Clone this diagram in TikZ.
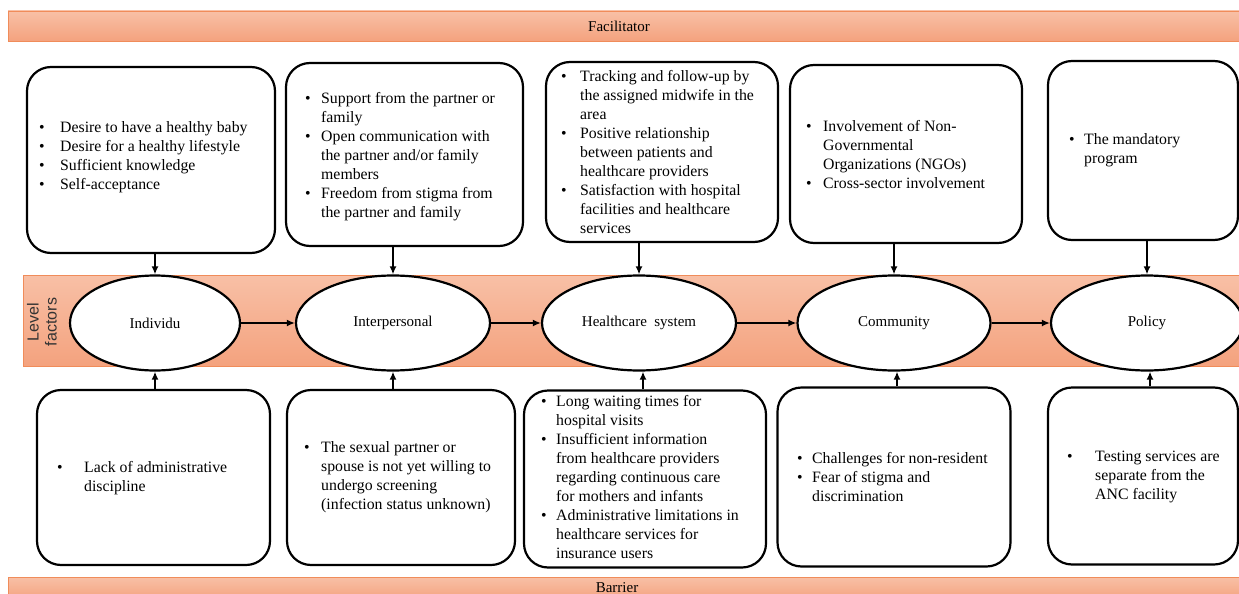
\documentclass[tikz,border=0pt]{standalone}
\usepackage{fontspec}
\setmainfont{Liberation Serif}
\newfontfamily\lvlfont{Liberation Sans}
\usetikzlibrary{arrows.meta,shapes.geometric}
\definecolor{bartop}{RGB}{248,192,166}
\definecolor{barbot}{RGB}{244,162,126}
\definecolor{barline}{RGB}{240,140,90}
\newcommand\bitem[2][15pt]{\par\noindent\hangindent=#1\hangafter=1\makebox[#1][l]{\textbullet}#2\par}
\newcommand\btext[2]{\begin{minipage}{#1}\fontsize{15.8}{19}\selectfont#2\end{minipage}}
\tikzset{
  bar/.style={draw=barline, line width=0.8pt, top color=bartop, bottom color=barbot},
  box/.style={draw, line width=2.2pt, rounded corners=24pt, fill=white, inner sep=0pt},
  ell/.style={ellipse, draw, line width=2.2pt, fill=white, inner sep=0pt, font=\fontsize{15}{17}\selectfont},
  txt/.style={anchor=west, inner sep=0pt},
  arr/.style={line width=2pt, -{Latex[length=8pt,width=7pt]}},
  lbl/.style={inner sep=0pt, font=\fontsize{15}{17}\selectfont}
}
\begin{document}
\begin{tikzpicture}[x=1pt,y=1pt]
\useasboundingbox (0,0) rectangle (1239,-594);
% bars
\path[bar] (8,-11) rectangle (1250,-41);
\node[lbl] (fac) at (619,-26) {Facilitator};
\path[bar] (8,-577) rectangle (1250,-600);
\node[lbl] (bar) at (617,-588) {Barrier};
\path[bar] (23,-275) rectangle (1250,-366);
\node[rotate=90, align=center, inner sep=0pt, font=\lvlfont\fontsize{16}{18}\selectfont, text=black!80] (lvl) at (42,-322) {Level\\factors};
% ellipses
\node[ell, minimum width=170pt, minimum height=95pt] (e1) at (155,-323) {Individu};
\node[ell, minimum width=194pt, minimum height=95pt] (e2) at (393,-323) {Interpersonal};
\node[ell, minimum width=194pt, minimum height=95pt] (e3) at (639,-323) {Healthcare\ \ system};
\node[ell, minimum width=193pt, minimum height=95pt] (e4) at (894,-323) {Community};
\node[ell, minimum width=192pt, minimum height=95pt] (e5) at (1147,-323) {Policy};
\draw[arr] (e1) -- (e2);
\draw[arr] (e2) -- (e3);
\draw[arr] (e3) -- (e4);
\draw[arr] (e4) -- (e5);
% top boxes
\node[box, minimum width=248pt, minimum height=186pt] (b1t) at (151,-160) {};
\node[box, minimum width=237pt, minimum height=183pt] (b2t) at (404.5,-154.5) {};
\node[box, minimum width=232pt, minimum height=180pt] (b3t) at (662,-152) {};
\node[box, minimum width=232pt, minimum height=178pt] (b4t) at (906,-154) {};
\node[box, minimum width=190pt, minimum height=179pt] (b5t) at (1143,-150.5) {};
\node[txt] (t1t) at (39,-157) {\btext{225pt}{%
\bitem[21pt]{Desire to have a healthy baby}%
\bitem[21pt]{Desire for a healthy lifestyle}%
\bitem[21pt]{Sufficient knowledge}%
\bitem[21pt]{Self-acceptance}}};
\node[txt] (t2t) at (305,-157) {\btext{215pt}{%
\bitem[16pt]{Support from the partner or\newline family}%
\bitem[16pt]{Open communication with\newline the partner and/or family\newline members}%
\bitem[16pt]{Freedom from stigma from\newline the partner and family}}};
\node[txt] (t3t) at (561,-152) {\btext{215pt}{%
\bitem[19pt]{Tracking and follow-up by\newline the assigned midwife in the\newline area}%
\bitem[19pt]{Positive relationship\newline between patients and\newline healthcare providers}%
\bitem[19pt]{Satisfaction with hospital\newline facilities and healthcare\newline services}}};
\node[txt] (t4t) at (806,-155) {\btext{215pt}{%
\bitem[17pt]{Involvement of Non-\newline Governmental\newline Organizations (NGOs)}%
\bitem[17pt]{Cross-sector involvement}}};
\node[txt] (t5t) at (1069,-150) {\btext{165pt}{%
\bitem[15pt]{The mandatory\newline program}}};
% bottom boxes
\node[box, minimum width=233pt, minimum height=175pt] (b1b) at (153.5,-477.5) {};
\node[box, minimum width=228pt, minimum height=175pt] (b2b) at (401,-477.5) {};
\node[box, minimum width=242pt, minimum height=177pt] (b3b) at (645,-479) {};
\node[box, minimum width=233pt, minimum height=179pt] (b4b) at (894,-477) {};
\node[box, minimum width=190pt, minimum height=177pt] (b5b) at (1143,-476) {};
\node[txt] (t1b) at (57,-478) {\btext{205pt}{%
\bitem[27pt]{Lack of administrative\newline discipline}}};
\node[txt] (t2b) at (304,-477) {\btext{215pt}{%
\bitem[17pt]{The sexual partner or\newline spouse is not yet willing to\newline undergo screening\newline (infection status unknown)}}};
\node[txt] (t3b) at (541,-477) {\btext{220pt}{%
\bitem[15pt]{Long waiting times for\newline hospital visits}%
\bitem[15pt]{Insufficient information\newline from healthcare providers\newline regarding continuous care\newline for mothers and infants}%
\bitem[15pt]{Administrative limitations in\newline healthcare services for\newline insurance users}}};
\node[txt] (t4b) at (797,-477) {\btext{215pt}{%
\bitem[15pt]{Challenges for non-resident}%
\bitem[15pt]{Fear of stigma and\newline discrimination}}};
\node[txt] (t5b) at (1067,-477) {\btext{170pt}{%
\bitem[28pt]{Testing services are\newline separate from the\newline ANC facility}}};
% vertical arrows
\draw[arr] (e1.north |- b1t.south) -- (e1.north);
\draw[arr] (e2.north |- b2t.south) -- (e2.north);
\draw[arr] (e3.north |- b3t.south) -- (e3.north);
\draw[arr] (e4.north |- b4t.south) -- (e4.north);
\draw[arr] (e5.north |- b5t.south) -- (e5.north);
\draw[arr] (e1.south |- b1b.north) -- (e1.south);
\draw[arr] (e2.south |- b2b.north) -- (e2.south);
\draw[arr] ([xshift=4pt]e3.south |- b3b.north) -- ([xshift=4pt]e3.south);
\draw[arr] ([xshift=3pt]e4.south |- b4b.north) -- ([xshift=3pt]e4.south);
\draw[arr] ([xshift=3pt]e5.south |- b5b.north) -- ([xshift=3pt]e5.south);
\end{tikzpicture}
\end{document}
